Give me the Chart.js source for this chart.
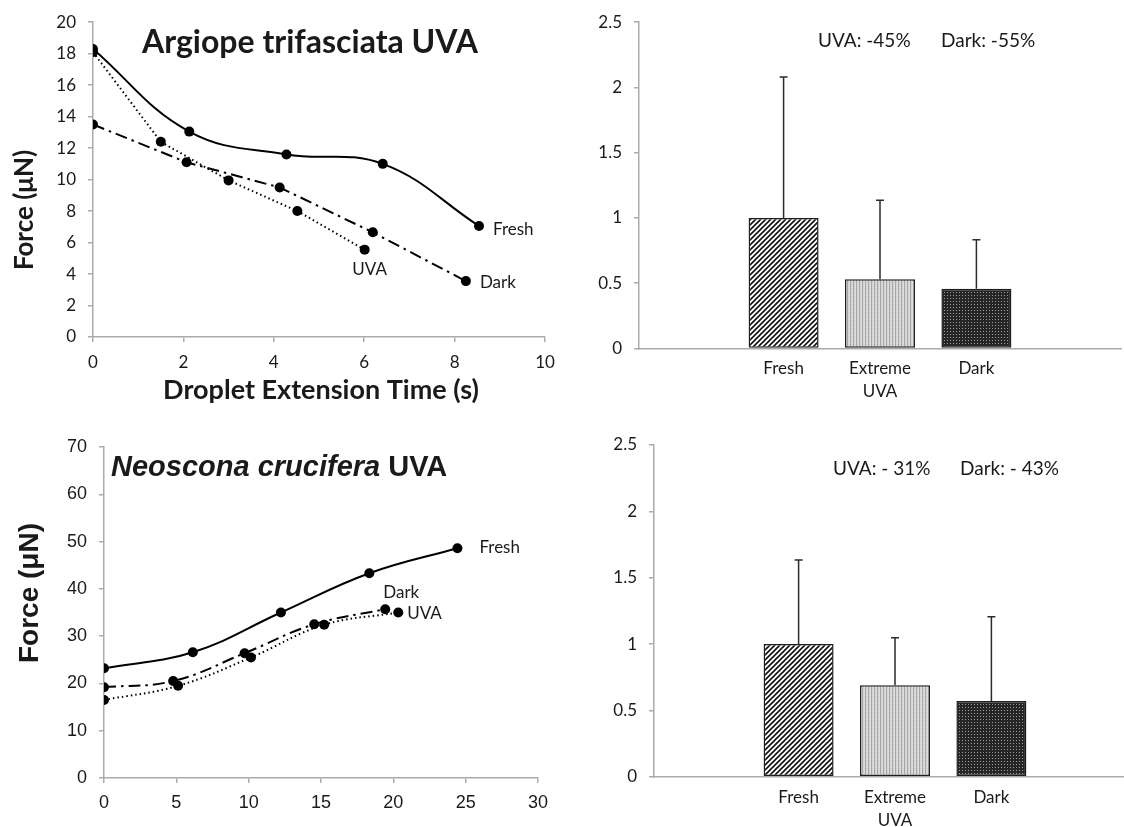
<!DOCTYPE html>
<html>
<head>
<meta charset="utf-8">
<script src="https://cdn.jsdelivr.net/npm/chart.js@4"></script>
<style>
  html, body { margin: 0; padding: 0; background: #fff; overflow: hidden; }
  #wrap { position: relative; width: 1124px; height: 827px; overflow: hidden; }
  canvas { position: absolute; }
</style>
</head>
<body>
<div id="wrap">
  <canvas id="argLine" width="580" height="410" style="left:0;top:0"></canvas>
  <canvas id="argBar" width="544" height="400" style="left:580px;top:0"></canvas>
  <canvas id="neoLine" width="580" height="427" style="left:0;top:400px"></canvas>
  <canvas id="neoBar" width="560" height="427" style="left:580px;top:400px"></canvas>
</div>
<script>
// Argiope trifasciata - force vs droplet extension time
const argFreshX = [0, 2.13, 4.28, 6.41, 8.54];
const argFreshY = [18.3, 13.05, 11.6, 11.0, 7.05];
const argUvaX = [0, 1.5, 3.0, 4.52, 6.01];
const argUvaY = [18.1, 12.4, 9.95, 8.0, 5.55];
const argDarkX = [0, 2.07, 4.13, 6.19, 8.25];
const argDarkY = [13.5, 11.1, 9.5, 6.65, 3.55];

// Neoscona crucifera - force vs droplet extension time
const neoFreshX = [0, 6.14, 12.23, 18.34, 24.43];
const neoFreshY = [23.2, 26.6, 35.0, 43.3, 48.6];
const neoDarkX = [0, 4.78, 9.72, 14.53, 19.44];
const neoDarkY = [19.2, 20.5, 26.4, 32.5, 35.7];
const neoUvaX = [0, 5.12, 10.16, 15.22, 20.34];
const neoUvaY = [16.5, 19.5, 25.5, 32.4, 35.0];

// relative bars (empty categories at both ends, like the original sheet)
const barLabels = ['', 'Fresh', ['Extreme', 'UVA'], 'Dark', ''];
const argBarMean = [null, 1.0, 0.53, 0.457, null];
const argBarErrTop = [null, 2.08, 1.136, 0.833, null];
const neoBarMean = [null, 1.0, 0.689, 0.570, null];
const neoBarErrTop = [null, 1.633, 1.048, 1.206, null];

const CAL = 'Lato, "Open Sans", sans-serif';
const ARIAL = '"Liberation Sans", Arial, sans-serif';
const AXIS_GREY = '#ababab';
const INK = '#1a1a1a';

Chart.defaults.font.family = CAL;
Chart.defaults.color = INK;

function pts(xs, ys) {
  return xs.map((x, i) => ({ x: x, y: ys[i] }));
}

// fill patterns for the bars
function makePattern(kind) {
  const c = document.createElement('canvas');
  const g = c.getContext('2d');
  if (kind === 'hatch') {
    c.width = 5; c.height = 5;
    g.fillStyle = '#fff'; g.fillRect(0, 0, 5, 5);
    g.strokeStyle = '#111'; g.lineWidth = 1.6;
    g.beginPath();
    g.moveTo(-1, 6); g.lineTo(6, -1);
    g.moveTo(-1, 1); g.lineTo(1, -1);
    g.moveTo(4, 6); g.lineTo(6, 4);
    g.stroke();
  } else if (kind === 'light') {
    c.width = 3; c.height = 2;
    g.fillStyle = '#d4d4d4'; g.fillRect(0, 0, 3, 2);
    g.fillStyle = '#a6a6a6'; g.fillRect(0, 0, 1, 2);
    g.fillStyle = '#e6e6e6'; g.fillRect(2, 1, 1, 1);
  } else {
    c.width = 3; c.height = 3;
    g.fillStyle = '#262626'; g.fillRect(0, 0, 3, 3);
    g.fillStyle = '#9a9a9a'; g.fillRect(1, 1, 1, 1);
  }
  return g.createPattern(c, 'repeat');
}

// free text: titles, axis titles, notes
function textPlugin(items) {
  return {
    id: 'texts',
    afterDraw(chart) {
      const ctx = chart.ctx;
      items.forEach(t => {
        ctx.save();
        ctx.fillStyle = t.color || INK;
        ctx.textBaseline = 'middle';
        ctx.translate(t.x, t.y);
        if (t.rotate) ctx.rotate(t.rotate);
        let x = 0;
        if (t.align === 'center') {
          let w = 0;
          t.parts.forEach(p => { ctx.font = p.font; w += ctx.measureText(p.text).width; });
          x = -w / 2;
        }
        t.parts.forEach(p => {
          ctx.font = p.font;
          ctx.textAlign = 'left';
          ctx.fillText(p.text, x, 0);
          x += ctx.measureText(p.text).width;
        });
        ctx.restore();
      });
    }
  };
}

// series names next to the last point of each line
function endLabelPlugin(labels) {
  return {
    id: 'endLabels',
    afterDatasetsDraw(chart) {
      const ctx = chart.ctx;
      labels.forEach((l, i) => {
        const pts = chart.getDatasetMeta(i).data;
        const p = pts[pts.length - 1];
        ctx.save();
        ctx.font = l.font;
        ctx.fillStyle = INK;
        ctx.textAlign = l.align || 'left';
        ctx.textBaseline = 'middle';
        ctx.fillText(l.text, p.x + l.dx, p.y + l.dy);
        ctx.restore();
      });
    }
  };
}

// upper error bars with a cap
function errorBarPlugin(tops) {
  return {
    id: 'errorBars',
    afterDatasetsDraw(chart) {
      const ctx = chart.ctx;
      const y = chart.scales.y;
      const meta = chart.getDatasetMeta(0);
      ctx.save();
      ctx.strokeStyle = '#2b2b2b';
      ctx.lineWidth = 1.5;
      meta.data.forEach((bar, i) => {
        if (tops[i] == null) return;
        const yt = y.getPixelForValue(tops[i]);
        ctx.beginPath();
        ctx.moveTo(bar.x, bar.y);
        ctx.lineTo(bar.x, yt);
        ctx.moveTo(bar.x - 4, yt);
        ctx.lineTo(bar.x + 4, yt);
        ctx.stroke();
      });
      ctx.restore();
    }
  };
}

function axis(extra) {
  return Object.assign({
    border: { display: true, color: AXIS_GREY, width: 1.5 },
    grid: { display: true, drawOnChartArea: false, drawTicks: true, tickLength: 5, color: AXIS_GREY, lineWidth: 1.5 }
  }, extra);
}

function lineSet(data, dash, tension) {
  return {
    data: data,
    borderColor: '#000',
    borderWidth: 2,
    borderDash: dash,
    tension: tension,
    pointRadius: 5,
    pointBackgroundColor: '#000',
    pointBorderColor: '#000',
    pointBorderWidth: 0,
    fill: false
  };
}

const common = {
  responsive: false,
  animation: false,
  devicePixelRatio: 1,
  events: [],
  plugins: { legend: { display: false }, tooltip: { enabled: false } }
};

const DOTTED = [1.5, 3];
const DASHDOT = [12, 5, 2.5, 5];
const plain = v => String(v);

// ---- top left ----
new Chart(document.getElementById('argLine'), {
  type: 'line',
  data: {
    datasets: [
      lineSet(pts(argFreshX, argFreshY), [], 0.4),
      lineSet(pts(argDarkX, argDarkY), DASHDOT, 0),
      lineSet(pts(argUvaX, argUvaY), DOTTED, 0)
    ]
  },
  options: Object.assign({}, common, {
    layout: { padding: { top: 19, right: 35, left: 0, bottom: 0 } },
    scales: {
      x: axis({
        type: 'linear', min: 0, max: 10,
        ticks: { color: INK, font: { size: 17 }, padding: 10, stepSize: 2 },
        afterFit: s => { s.height = 73; }
      }),
      y: axis({
        min: 0, max: 20,
        ticks: { color: INK, font: { size: 17 }, padding: 12, stepSize: 2 },
        afterFit: s => { s.width = 93; }
      })
    }
  }),
  plugins: [
    endLabelPlugin([
      { text: 'Fresh', dx: 14, dy: 3, font: '17px ' + CAL },
      { text: 'Dark', dx: 14, dy: 1, font: '17px ' + CAL },
      { text: 'UVA', dx: 5, dy: 20, align: 'center', font: '17px ' + CAL }
    ]),
    textPlugin([
      { x: 142, y: 43, parts: [{ text: 'Argiope trifasciata UVA', font: 'bold 32px ' + CAL }] },
      { x: 25, y: 210, rotate: -Math.PI / 2, align: 'center', parts: [{ text: 'Force (μN)', font: 'bold 26px ' + CAL }] },
      { x: 321, y: 390, align: 'center', parts: [{ text: 'Droplet Extension Time (s)', font: 'bold 27px ' + CAL }] }
    ])
  ]
});

// ---- bottom left ----
new Chart(document.getElementById('neoLine'), {
  type: 'line',
  data: {
    datasets: [
      lineSet(pts(neoFreshX, neoFreshY), [], 0.4),
      lineSet(pts(neoDarkX, neoDarkY), DASHDOT, 0.4),
      lineSet(pts(neoUvaX, neoUvaY), DOTTED, 0.4)
    ]
  },
  options: Object.assign({}, common, {
    layout: { padding: { top: 47, right: 42, left: 0, bottom: 0 } },
    scales: {
      x: axis({
        type: 'linear', min: 0, max: 30,
        ticks: { color: INK, font: { family: ARIAL, size: 18 }, padding: 9, stepSize: 5 },
        afterFit: s => { s.height = 49; }
      }),
      y: axis({
        min: 0, max: 70,
        ticks: { color: INK, font: { family: ARIAL, size: 18 }, padding: 12, stepSize: 10 },
        afterFit: s => { s.width = 104; }
      })
    }
  }),
  plugins: [
    endLabelPlugin([
      { text: 'Fresh', dx: 22, dy: -1, font: '17px ' + CAL },
      { text: 'Dark', dx: 16, dy: -17, align: 'center', font: '17px ' + CAL },
      { text: 'UVA', dx: 9, dy: 1, font: '17px ' + CAL }
    ]),
    textPlugin([
      { x: 111, y: 68, parts: [
        { text: 'Neoscona crucifera', font: 'italic bold 29px ' + ARIAL },
        { text: ' UVA', font: 'bold 29px ' + ARIAL }
      ] },
      { x: 30, y: 193, rotate: -Math.PI / 2, align: 'center', parts: [{ text: 'Force (μN)', font: 'bold 28px ' + ARIAL }] }
    ])
  ]
});

// ---- bar panels ----
function barChart(id, means, tops, padTop, yWidth, xHeight, padRight, notes) {
  return new Chart(document.getElementById(id), {
    type: 'bar',
    data: {
      labels: barLabels,
      datasets: [{
        data: means,
        backgroundColor: [null, makePattern('hatch'), makePattern('light'), makePattern('dark'), null],
        borderColor: '#1e1e1e',
        borderWidth: 1.5,
        borderSkipped: false,
        categoryPercentage: 1,
        barPercentage: 0.726
      }]
    },
    options: Object.assign({}, common, {
      layout: { padding: { top: padTop, right: padRight, left: 0, bottom: 0 } },
      scales: {
        x: {
          border: { display: true, color: AXIS_GREY, width: 1.5 },
          grid: { display: false, drawTicks: false },
          ticks: { color: INK, font: { size: 17, lineHeight: 1.35 }, padding: 9, maxRotation: 0, autoSkip: false },
          afterFit: s => { s.height = xHeight; }
        },
        y: axis({
          min: 0, max: 2.5,
          ticks: { color: INK, font: { size: 17 }, padding: 12, stepSize: 0.5, callback: plain },
          afterFit: s => { s.width = yWidth; }
        })
      }
    }),
    plugins: [errorBarPlugin(tops), textPlugin(notes)]
  });
}

barChart('argBar', argBarMean, argBarErrTop, 19, 59, 51.5, 3, [
  { x: 238, y: 41, parts: [{ text: 'UVA: -45%', font: '19px ' + CAL }] },
  { x: 361, y: 41, parts: [{ text: 'Dark: -55%', font: '19px ' + CAL }] }
]);

barChart('neoBar', neoBarMean, neoBarErrTop, 45, 74, 50.3, 4, [
  { x: 253, y: 69, parts: [{ text: 'UVA: - 31%', font: '19px ' + CAL }] },
  { x: 380, y: 69, parts: [{ text: 'Dark: - 43%', font: '19px ' + CAL }] }
]);
</script>
</body>
</html>
